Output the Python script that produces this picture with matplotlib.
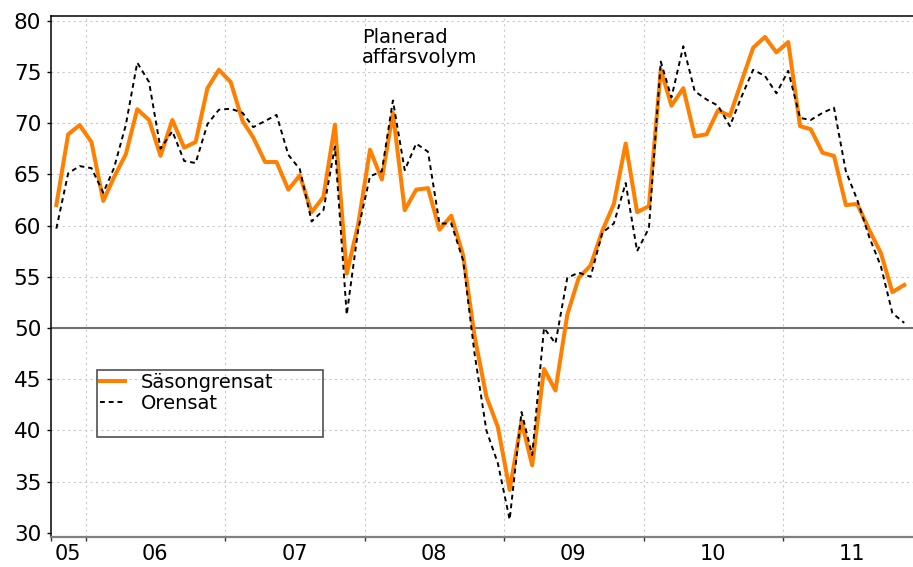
import numpy as np
import pandas as pd
import matplotlib
matplotlib.use('Agg')
import matplotlib.pyplot as plt
import matplotlib.dates as mdates
from matplotlib.patches import Rectangle

# monthly observations, Oct 2005 - Nov 2011
start = '2005-10-01'
end = '2011-11-01'

sasongrensat = [
    62.0, 68.9, 69.8,
    68.15, 62.4, 64.7, 66.95, 71.35, 70.3, 66.8, 70.3, 67.6, 68.15, 73.4, 75.2,
    74.0, 70.2, 68.6, 66.2, 66.2, 63.5, 64.9, 61.3, 62.8, 69.85, 55.3, 60.1,
    67.4, 64.5, 71.0, 61.5, 63.5, 63.65, 59.6, 60.95, 57.1, 49.2, 43.3, 40.35,
    34.2, 40.9, 36.6, 46.0, 43.9, 51.3, 54.9, 56.1, 59.5, 62.1, 68.0, 61.3,
    61.9, 75.2, 71.7, 73.4, 68.7, 68.9, 71.25, 70.7, 74.1, 77.35, 78.4, 76.9,
    77.9, 69.7, 69.4, 67.1, 66.8, 62.0, 62.1, 59.6, 57.3, 53.5, 54.2,
]
orensat = [
    59.7, 65.1, 65.8,
    65.6, 63.2, 65.6, 69.8, 75.9, 74.0, 67.5, 69.2, 66.3, 66.1, 69.9, 71.3,
    71.4, 71.0, 69.6, 70.2, 70.8, 66.9, 65.5, 60.4, 61.5, 67.7, 51.3, 59.6,
    64.8, 65.3, 72.2, 65.4, 68.0, 67.2, 60.2, 60.2, 56.6, 47.5, 40.0, 36.8,
    31.3, 41.8, 37.6, 50.0, 48.5, 54.9, 55.4, 55.0, 59.3, 60.2, 64.15, 57.5,
    59.75, 76.0, 72.5, 77.5, 73.1, 72.3, 71.7, 69.7, 72.6, 75.2, 74.6, 72.9,
    75.1, 70.5, 70.3, 71.0, 71.5, 65.3, 62.5, 58.9, 56.0, 51.45, 50.5,
]
year_labels = ['05', '06', '07', '08', '09', '10', '11']
y_ticks = [30, 35, 40, 45, 50, 55, 60, 65, 70, 75, 80]

dates = pd.date_range(start, end, freq='MS') + pd.Timedelta(days=14)

FONT = 'DejaVu Sans'
plt.rcParams['font.family'] = FONT

fig = plt.figure(figsize=(9.13, 5.67), dpi=100)
ax = fig.add_axes([51 / 913, 30.3 / 567, 862 / 913, 520.3 / 567])

ax.plot(dates, orensat, color='black', lw=1.4, ls=(0, (2.5, 2)), label='Orensat', zorder=4)
ax.plot(dates, sasongrensat, color='#ff8000', lw=2.9, label='Säsongrensat', zorder=3)
ax.axhline(50, color='#707070', lw=1.5, zorder=2)

ax.set_ylim(29.63, 80.41)
ax.set_xlim(pd.Timestamp('2005-10-01'), pd.Timestamp('2011-12-08'))

ax.set_yticks(y_ticks)
ax.set_yticklabels([str(v) for v in y_ticks])

# year boundaries as major ticks, labels centred in each year
bounds = [pd.Timestamp('2005-10-01')] + [pd.Timestamp(f'{y}-01-01') for y in range(2006, 2012)]
mids = [pd.Timestamp('2005-11-15')] + [pd.Timestamp(f'{y}-07-01') for y in range(2006, 2012)]
ax.set_xticks(mdates.date2num(bounds))
ax.set_xticklabels([])
ax.set_xticks(mdates.date2num(mids), minor=True)
ax.set_xticklabels(year_labels, minor=True)
ax.tick_params(axis='x', which='major', length=3, width=1, color='#333333')
ax.tick_params(axis='x', which='minor', length=0, pad=5, labelsize=15)
ax.tick_params(axis='y', length=3, width=1, pad=4, labelsize=15.5)

# grid
for b in bounds[1:]:
    ax.axvline(b, color='#c8c8c8', lw=0.8, ls=(0, (2, 3)), zorder=1)
for v in y_ticks[1:]:
    ax.axhline(v, color='#c8c8c8', lw=0.8, ls=(0, (2, 3)), zorder=1)

ax.spines['right'].set_visible(False)
ax.spines['top'].set_linewidth(1.1)
ax.spines['left'].set_linewidth(1.1)
ax.spines['bottom'].set_color('#808080')
ax.spines['bottom'].set_linewidth(1.6)

ax.text(0.3608, 0.977, 'Planerad\naffärsvolym', transform=ax.transAxes,
        ha='left', va='top', fontsize=14, linespacing=1.05)

h, l = ax.get_legend_handles_labels()
ax.legend([h[1], h[0]], [l[1], l[0]], loc='upper left', bbox_to_anchor=(0.0531, 0.3206),
          borderaxespad=0, borderpad=0.15, frameon=False, fontsize=14,
          handlelength=1.3, handletextpad=0.8, labelspacing=0.1)
ax.add_patch(Rectangle((0.0531, 0.1923), 0.2625, 0.1283, transform=ax.transAxes,
                       fill=False, ec='#505050', lw=1.2, zorder=5))

fig.savefig('out.png', dpi=100)
